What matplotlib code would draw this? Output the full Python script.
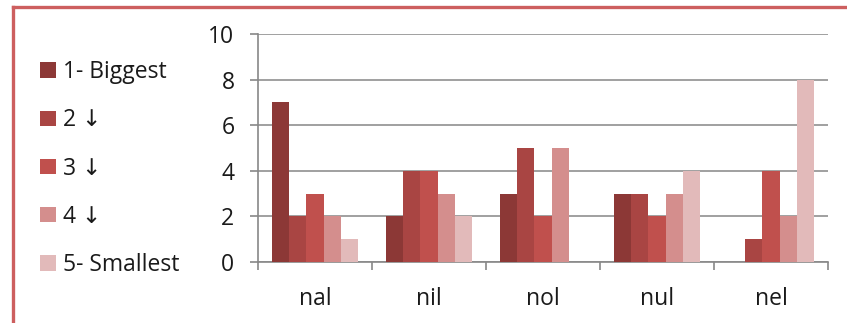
import matplotlib
matplotlib.use("Agg")
import matplotlib.pyplot as plt
import numpy as np
from matplotlib.lines import Line2D

plt.rcParams['font.family'] = ['Open Sans', 'DejaVu Sans']

categories = ['nal', 'nil', 'nol', 'nul', 'nel']
series_names = ['1- Biggest', '2 \u2193', '3 \u2193', '4 \u2193', '5- Smallest']
values = [
    [7, 2, 3, 3, 0],   # 1- Biggest
    [2, 4, 5, 3, 1],   # 2
    [3, 4, 2, 2, 4],   # 3
    [2, 3, 5, 3, 2],   # 4
    [1, 2, 0, 4, 8],   # 5- Smallest
]
colors = ['#8C3836', '#A94543', '#C0504D', '#D48E8D', '#E2BABA']
yticks = [0, 2, 4, 6, 8, 10]

W, H = 847, 323
fig = plt.figure(figsize=(W / 100, H / 100), dpi=100)
ax = fig.add_axes([258 / W, 61 / H, 570 / W, 228 / H])

x = np.arange(len(categories))
bw = 0.152
handles = []
for i, (name, vals) in enumerate(zip(series_names, values)):
    b = ax.bar(x + (i - 2) * bw, vals, bw, color=colors[i], label=name, zorder=3)
    handles.append(b)

fs = 16.5
tc = '#1a1a1a'
ax.set_xlim(-0.5, len(categories) - 0.5)
ax.set_ylim(0, 10)
ax.set_yticks(yticks)
ax.set_yticklabels([str(t) for t in yticks], fontsize=fs, color=tc)
ax.yaxis.grid(True, color='#999999', linewidth=1.3, zorder=0)
ax.set_axisbelow(True)

ax.set_xticks(x)
ax.set_xticklabels(categories, fontsize=fs, color=tc)
ax.set_xticks(np.arange(-0.5, len(categories)), minor=True)
ax.tick_params(axis='x', which='major', length=0, pad=18)
ax.tick_params(axis='x', which='minor', length=6, direction='out', color='#888888', width=1.2)
ax.tick_params(axis='y', length=6, direction='out', color='#888888', width=1.2, pad=11)

for s in ['top', 'right']:
    ax.spines[s].set_visible(False)
for s in ['left', 'bottom']:
    ax.spines[s].set_color('#888888')
    ax.spines[s].set_linewidth(1.2)

leg = fig.legend(handles=handles, labels=series_names, loc='upper left',
                 bbox_to_anchor=(40 / W, 1 - 60 / H), frameon=False, fontsize=fs,
                 handlelength=0.7, handleheight=0.65, handletextpad=0.3,
                 labelspacing=1.06, borderaxespad=0, borderpad=0)
for t in leg.get_texts():
    t.set_color(tc)

# frame border along top and left
bc = '#CD5F5F'
fig.add_artist(Line2D([13 / W, 13 / W], [0, 1 - 6.5 / H], color=bc, linewidth=2.4,
                      transform=fig.transFigure, solid_capstyle='projecting'))
fig.add_artist(Line2D([13 / W, 1], [1 - 6.5 / H, 1 - 6.5 / H], color=bc, linewidth=2.4,
                      transform=fig.transFigure, solid_capstyle='projecting'))

fig.savefig('out.png', dpi=100)
